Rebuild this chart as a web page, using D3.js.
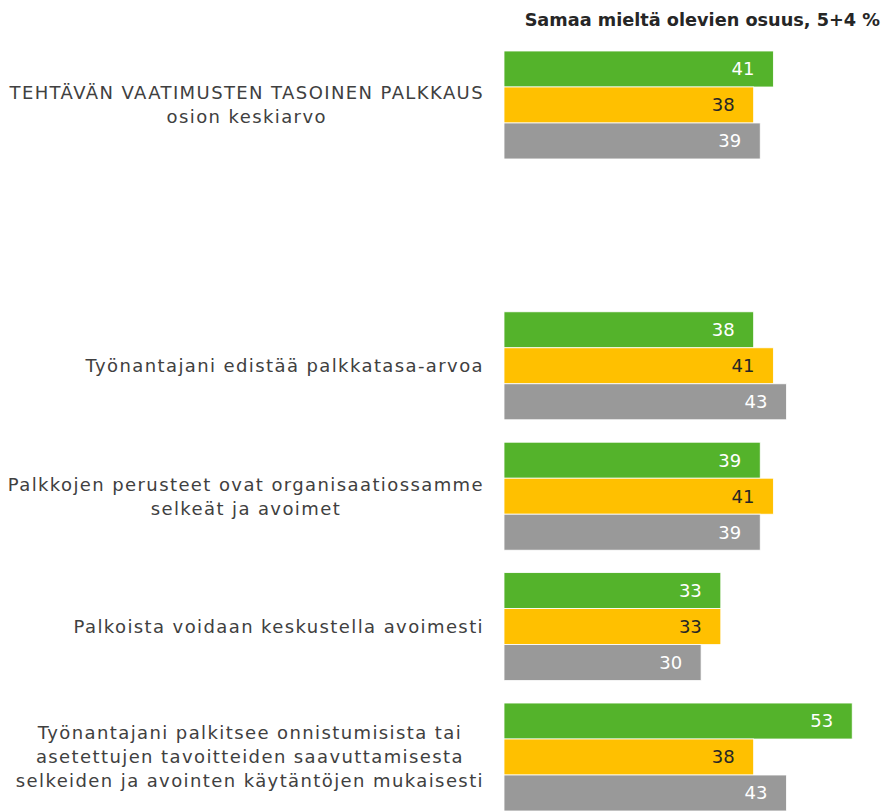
<!DOCTYPE html>
<html>
<head>
<meta charset="utf-8">
<script src="https://cdn.jsdelivr.net/npm/d3@7"></script>
<style>
  html, body { margin: 0; padding: 0; background: #fff; }
  svg { display: block; }
</style>
</head>
<body>
<svg id="chart" width="888" height="811"></svg>
<script>
// ---- Data ----
const title = "Samaa mieltä olevien osuus, 5+4 %";
const categories = [
  "TEHTÄVÄN VAATIMUSTEN TASOINEN PALKKAUS\nosion keskiarvo",
  "",
  "Työnantajani edistää palkkatasa-arvoa",
  "Palkkojen perusteet ovat organisaatiossamme\nselkeät ja avoimet",
  "Palkoista voidaan keskustella avoimesti",
  "Työnantajani palkitsee onnistumisista tai\nasetettujen tavoitteiden saavuttamisesta\nselkeiden ja avointen käytäntöjen mukaisesti"
];
const seriesNames = ["Sarja 1", "Sarja 2", "Sarja 3"];
const series1 = [41, null, 38, 39, 33, 53];
const series2 = [38, null, 41, 41, 33, 38];
const series3 = [39, null, 43, 39, 30, 43];
const seriesValues = [series1, series2, series3];
const seriesColors = ["#54B32B", "#FFC000", "#999999"];
const labelColors = ["#ffffff", "#262626", "#ffffff"];

// ---- Layout ----
const svg = d3.select("#chart");
const FONT = "'DejaVu Sans', sans-serif";

const y = d3.scaleBand()
  .domain(d3.range(categories.length))
  .range([51, 811])
  .paddingInner(0.172)
  .paddingOuter(0);

const yInner = d3.scaleBand()
  .domain(d3.range(seriesNames.length))
  .range([0, y.bandwidth()])
  .padding(0);

const x = d3.scaleLinear().domain([0, 100]).range([504, 1161]);

// Title
svg.append("text")
  .attr("x", 880)
  .attr("y", 26)
  .attr("text-anchor", "end")
  .attr("font-family", FONT)
  .attr("font-weight", "bold")
  .attr("font-size", 17.7)
  .attr("fill", "#262626")
  .text(title);

// Bars
const groups = svg.append("g").selectAll("g")
  .data(categories.map((c, i) => ({ c, i })))
  .join("g")
  .attr("transform", d => `translate(0,${y(d.i)})`);

groups.each(function (d) {
  const g = d3.select(this);
  const vals = seriesValues.map((s, k) => ({ k, v: s[d.i] })).filter(e => e.v != null);
  g.selectAll("rect")
    .data(vals)
    .join("rect")
    .attr("x", x(0))
    .attr("y", e => yInner(e.k))
    .attr("width", e => x(e.v) - x(0))
    .attr("height", yInner.bandwidth())
    .attr("fill", e => seriesColors[e.k])
    .attr("stroke", "#ffffff")
    .attr("stroke-width", 0.8);
  g.selectAll("text.val")
    .data(vals)
    .join("text")
    .attr("class", "val")
    .attr("x", e => x(e.v) - 19)
    .attr("y", e => yInner(e.k) + yInner.bandwidth() / 2)
    .attr("dy", "0.36em")
    .attr("text-anchor", "end")
    .attr("font-family", FONT)
    .attr("font-size", 18)
    .attr("fill", e => labelColors[e.k])
    .text(e => e.v);
});

// Category labels: box right-aligned, lines centered inside
const labelRight = 484;
const lineH = 24;
categories.forEach((c, i) => {
  if (!c) return;
  const lines = c.split("\n");
  const g = svg.append("g");
  const texts = lines.map((ln, j) => g.append("text")
    .attr("font-family", FONT)
    .attr("font-size", 18)
    .attr("letter-spacing", 1.4)
    .attr("fill", "#404040")
    .attr("text-anchor", "middle")
    .attr("dy", "0.36em")
    .attr("y", y(i) + y.bandwidth() / 2 + (j - (lines.length - 1) / 2) * lineH)
    .text(ln));
  const maxW = d3.max(texts, t => t.node().getComputedTextLength());
  texts.forEach(t => t.attr("x", labelRight - maxW / 2));
});
</script>
</body>
</html>
